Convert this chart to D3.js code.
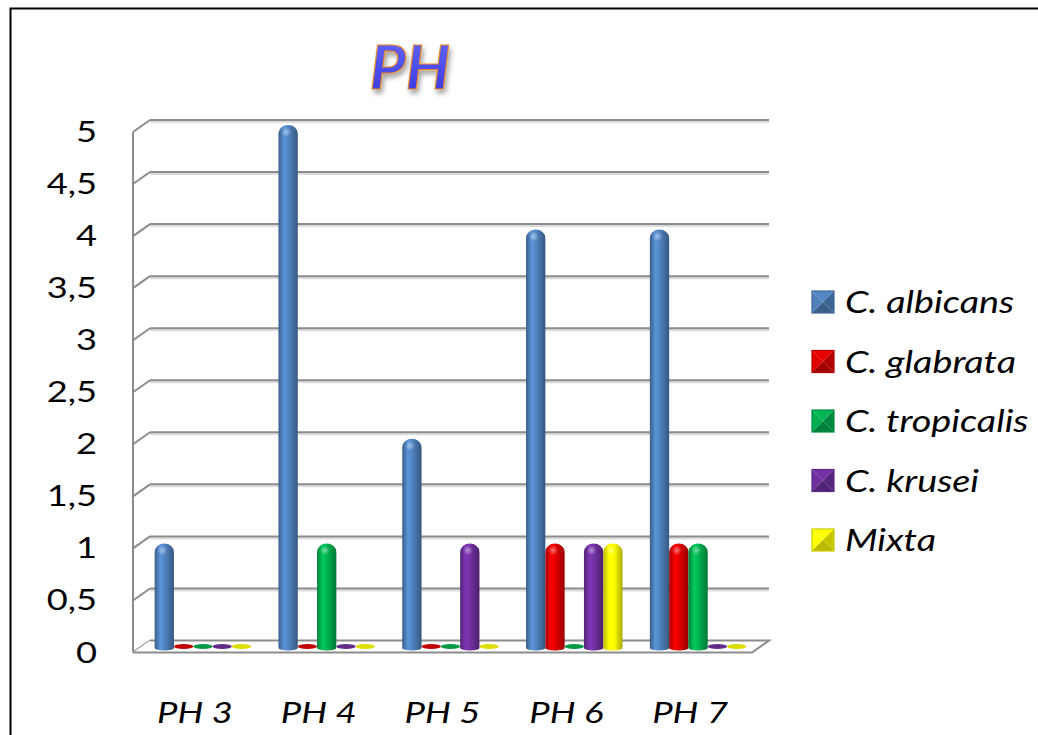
<!DOCTYPE html>
<html lang="en">
<head>
  <meta charset="UTF-8">
  <title>PH</title>
  <style>
    body { margin: 0; background: #fff; }
    text { font-family: Lato, "Open Sans", sans-serif; }
  </style>
</head>
<body>
  <svg></svg>
  <script src="https://cdn.jsdelivr.net/npm/d3@7"></script>
  <script>
    var width = 1038
    var height = 735

    // data
    var categories = ["PH 3", "PH 4", "PH 5", "PH 6", "PH 7"]
    var series = ["C. albicans", "C. glabrata", "C. tropicalis", "C. krusei", "Mixta"]
    var colors = ["#4f81bd", "#e00000", "#00b050", "#7030a0", "#ffff00"]
    var albicans = [1, 5, 2, 4, 4]
    var glabrata = [0, 0, 0, 1, 1]
    var tropicalis = [0, 1, 0, 0, 1]
    var krusei = [0, 0, 1, 1, 0]
    var mixta = [0, 0, 0, 1, 0]
    var yTicks = [0, 0.5, 1, 1.5, 2, 2.5, 3, 3.5, 4, 4.5, 5]
    var values = [albicans, glabrata, tropicalis, krusei, mixta]

    // the original text is set wide, stretch Lato to match
    var stretch = 1.22

    var svg = d3.select("svg")
      .attr("width", width)
      .attr("height", height)

    var defs = svg.append("defs")

    // outer border
    svg.append("rect")
      .attr("x", 10.5).attr("y", 8.5)
      .attr("width", 1200).attr("height", 900)
      .attr("fill", "none")
      .attr("stroke", "#000")
      .attr("stroke-width", 2)

    // 3d box: front plane / back plane
    var depthX = 17, depthY = -12
    var frontLeft = 133, frontRight = 752
    var yFront = d3.scaleLinear().domain([0, 5]).range([652.5, 132])
    var yBack = d3.scaleLinear().domain([0, 5]).range([640.5, 120])
    var yBar = d3.scaleLinear().domain([0, 5]).range([648, 125])

    var xFront = d3.scaleBand().domain(categories).range([frontLeft, frontRight])
    var xGroup = d3.scaleBand().domain(categories).range([frontLeft + 8, frontRight + 8])
    var groupW = 96.5
    var xInner = d3.scaleBand().domain(series).range([0, groupW])

    var grid = svg.append("g")
      .attr("fill", "none")
      .attr("stroke-width", 2)

    // shadow under grid lines
    grid.selectAll("line.sh")
      .data(yTicks.slice(1))
      .join("line")
      .attr("class", "sh")
      .attr("x1", frontLeft + depthX).attr("x2", frontRight + depthX)
      .attr("y1", d => yBack(d) + 2).attr("y2", d => yBack(d) + 2)
      .attr("stroke", "#dcdcdc")

    grid.selectAll("line.g")
      .data(yTicks.slice(1))
      .join("line")
      .attr("class", "g")
      .attr("x1", frontLeft + depthX).attr("x2", frontRight + depthX)
      .attr("y1", d => yBack(d)).attr("y2", d => yBack(d))
      .attr("stroke", "#8c8c8c")

    grid.selectAll("line.d")
      .data(yTicks)
      .join("line")
      .attr("class", "d")
      .attr("x1", frontLeft).attr("x2", frontLeft + depthX)
      .attr("y1", d => yFront(d)).attr("y2", d => yBack(d))
      .attr("stroke", "#8c8c8c")

    // left wall edge
    grid.append("line")
      .attr("x1", frontLeft).attr("x2", frontLeft)
      .attr("y1", yFront(5)).attr("y2", yFront(0))
      .attr("stroke", "#8c8c8c")

    // floor
    grid.append("path")
      .attr("d", `M${frontLeft + depthX},${yBack(0)} L${frontRight + depthX},${yBack(0)} L${frontRight},${yFront(0)} L${frontLeft},${yFront(0)}`)
      .attr("stroke", "#8c8c8c")
      .attr("fill", "#fff")

    // y axis labels
    svg.append("g")
      .selectAll("text")
      .data(yTicks)
      .join("text")
      .attr("transform", d => `translate(97, ${yFront(d) + 10}) scale(1.25, 1)`)
      .attr("text-anchor", "end")
      .attr("font-size", 29)
      .attr("fill", "#000")
      .text(d => String(d).replace(".", ","))

    // x axis labels
    svg.append("g")
      .selectAll("text")
      .data(categories)
      .join("text")
      .attr("transform", d => `translate(${xFront(d) + xFront.bandwidth() / 2}, 723) scale(1.3, 1)`)
      .attr("text-anchor", "middle")
      .attr("font-size", 28)
      .attr("font-style", "italic")
      .text(d => d)

    // gradients for cylinders
    colors.forEach((c, i) => {
      var base = d3.color(c)
      var g = defs.append("linearGradient")
        .attr("id", "cyl" + i)
        .attr("x1", "0").attr("x2", "1").attr("y1", "0").attr("y2", "0")
      var stops = [
        [0, base.darker(0.9)],
        [0.3, base.brighter(0.4)],
        [0.55, base],
        [1, base.darker(1.1)]
      ]
      stops.forEach(s => g.append("stop").attr("offset", s[0]).attr("stop-color", s[1].formatHex()))
    })

    var barData = []
    categories.forEach((cat, ci) => {
      series.forEach((s, si) => {
        barData.push({ cat: cat, s: s, si: si, v: values[si][ci] })
      })
    })

    var bw = xInner.bandwidth()
    var bars = svg.append("g")

    function barX(d) {
      return xGroup(d.cat) + (xGroup.bandwidth() - groupW) / 2 + xInner(d.s)
    }

    // zero values: flat disc on the floor
    bars.selectAll("ellipse")
      .data(barData.filter(d => d.v === 0))
      .join("ellipse")
      .attr("cx", d => barX(d) + bw / 2)
      .attr("cy", yBar(0) - 1.5)
      .attr("rx", bw / 2)
      .attr("ry", 2.6)
      .attr("fill", d => d3.color(colors[d.si]).darker(0.4).formatHex())

    bars.selectAll("path")
      .data(barData.filter(d => d.v > 0))
      .join("path")
      .attr("d", d => {
        var x0 = barX(d), x1 = x0 + bw
        var r = bw / 2, ry = 8.5
        var top = yBar(d.v), bot = yBar(0)
        return `M${x0},${bot} L${x0},${top + ry} A${r},${ry} 0 0 1 ${x1},${top + ry} L${x1},${bot} A${r},2.5 0 0 1 ${x0},${bot} Z`
      })
      .attr("fill", d => `url(#cyl${d.si})`)

    // highlight on rounded tops
    var hl = defs.append("radialGradient").attr("id", "hl")
    hl.append("stop").attr("offset", 0).attr("stop-color", "#fff").attr("stop-opacity", 0.45)
    hl.append("stop").attr("offset", 1).attr("stop-color", "#fff").attr("stop-opacity", 0)
    bars.selectAll("ellipse.hl")
      .data(barData.filter(d => d.v > 0))
      .join("ellipse")
      .attr("class", "hl")
      .attr("cx", d => barX(d) + bw * 0.4)
      .attr("cy", d => yBar(d.v) + 7)
      .attr("rx", 5).attr("ry", 5)
      .attr("fill", "url(#hl)")

    // title
    var tg = defs.append("linearGradient")
      .attr("id", "titleFill")
      .attr("x1", 0).attr("x2", 0).attr("y1", 0).attr("y2", 1)
    tg.append("stop").attr("offset", 0).attr("stop-color", "#6a6cff")
    tg.append("stop").attr("offset", 1).attr("stop-color", "#3434dc")
    var sh = defs.append("filter").attr("id", "tshadow")
      .attr("x", "-20%").attr("y", "-20%").attr("width", "150%").attr("height", "160%")
    sh.append("feDropShadow")
      .attr("dx", 2).attr("dy", 4).attr("stdDeviation", 2.5)
      .attr("flood-color", "#000").attr("flood-opacity", 0.35)

    svg.append("text")
      .attr("x", 410)
      .attr("y", 89)
      .attr("text-anchor", "middle")
      .attr("font-size", 62)
      .attr("font-weight", "bold")
      .attr("font-style", "italic")
      .attr("fill", "url(#titleFill)")
      .attr("stroke", "#e8892f")
      .attr("stroke-width", 1.2)
      .attr("filter", "url(#tshadow)")
      .text("PH")

    // legend
    var legend = svg.append("g")
      .selectAll("g")
      .data(series)
      .join("g")
      .attr("transform", (d, i) => `translate(812, ${291 + i * 59.5})`)

    var s = 22
    legend.each(function (d, i) {
      var g = d3.select(this)
      var c = d3.color(colors[i])
      var tris = [
        [[0, 0], [s, 0], [s / 2, s / 2], c.brighter(0.1)],
        [[0, 0], [0, s], [s / 2, s / 2], c],
        [[s, 0], [s, s], [s / 2, s / 2], c.darker(0.7)],
        [[0, s], [s, s], [s / 2, s / 2], c.darker(0.9)]
      ]
      tris.forEach(t => {
        g.append("path")
          .attr("d", `M${t[0]}L${t[1]}L${t[2]}Z`)
          .attr("fill", t[3].formatHex())
      })
      g.append("rect")
        .attr("width", s).attr("height", s)
        .attr("fill", "none")
        .attr("stroke", c.darker(0.6).formatHex())
        .attr("stroke-width", 1.2)
      g.append("text")
        .attr("transform", `translate(33, 22) scale(${stretch}, 1)`)
        .attr("font-size", 31)
        .attr("font-style", "italic")
        .text(d)
    })
  </script>
</body>
</html>
